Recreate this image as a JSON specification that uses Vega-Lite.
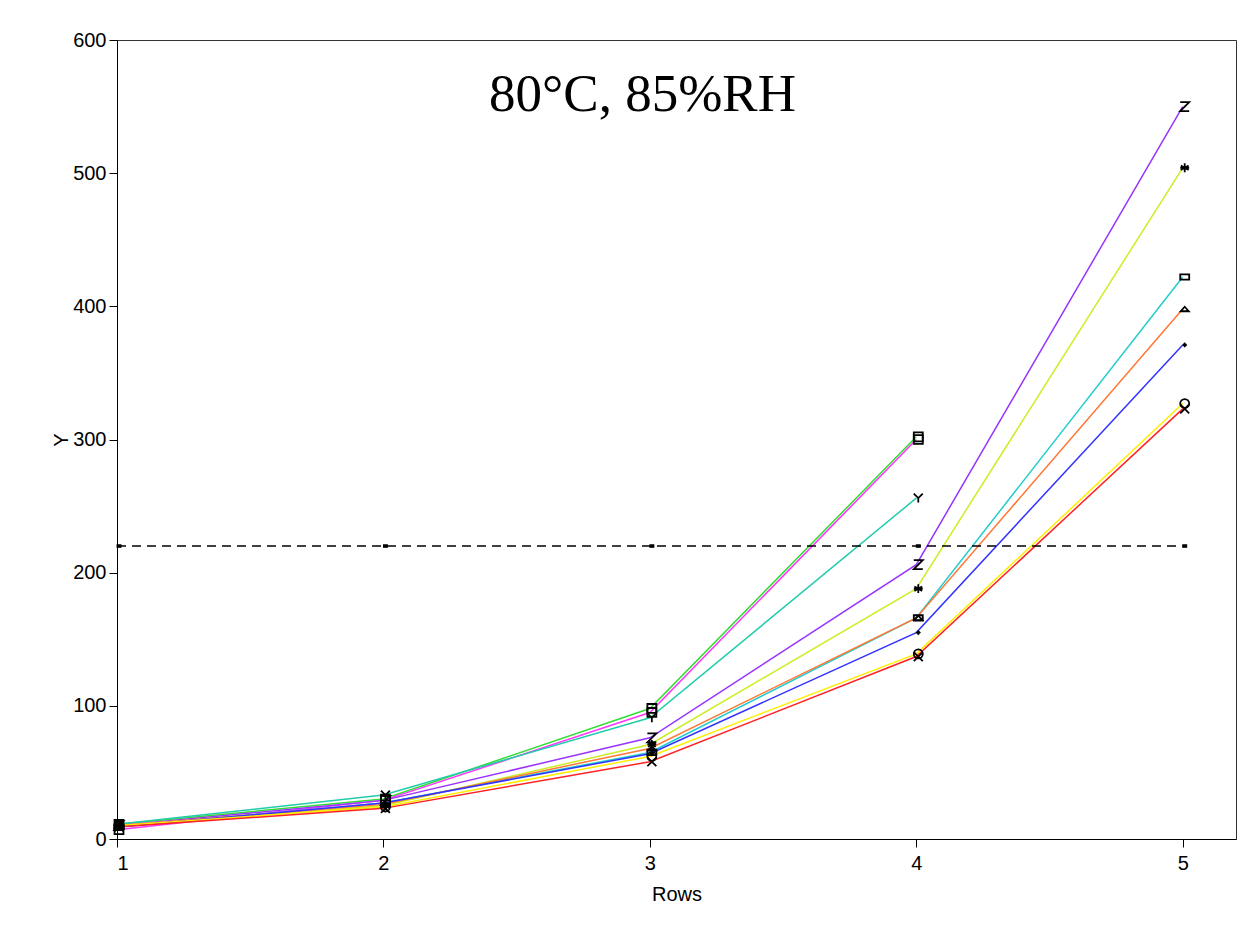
{
  "$schema": "https://vega.github.io/schema/vega-lite/v6.json",
  "width": 1119,
  "height": 799,
  "autosize": {"type": "none"},
  "padding": {"left": 117, "top": 40, "right": 17, "bottom": 97},
  "background": "white",
  "title": {
    "text": "80°C, 85%RH",
    "font": "Liberation Serif",
    "fontSize": 53,
    "fontWeight": "normal",
    "color": "black",
    "anchor": "middle",
    "baseline": "alphabetic",
    "offset": -134,
    "dx": -34
  },
  "config": {
    "view": {"stroke": "#333333", "strokeWidth": 1},
    "axis": {
      "domainColor": "black",
      "tickColor": "black",
      "tickSize": 8,
      "grid": false,
      "labelFont": "Liberation Sans",
      "labelFontSize": 20,
      "labelColor": "black",
      "titleFont": "Liberation Sans",
      "titleFontSize": 20,
      "titleFontWeight": "normal",
      "titleColor": "black"
    }
  },
  "data": {
    "values": [
      {"series": "A", "row": 1, "y": 11}, {"series": "A", "row": 2, "y": 30}, {"series": "A", "row": 3, "y": 98}, {"series": "A", "row": 4, "y": 302},
      {"series": "B", "row": 1, "y": 7}, {"series": "B", "row": 2, "y": 29}, {"series": "B", "row": 3, "y": 95}, {"series": "B", "row": 4, "y": 300},
      {"series": "C", "row": 1, "y": 11}, {"series": "C", "row": 2, "y": 33}, {"series": "C", "row": 3, "y": 91}, {"series": "C", "row": 4, "y": 256},
      {"series": "D", "row": 1, "y": 10}, {"series": "D", "row": 2, "y": 29}, {"series": "D", "row": 3, "y": 76}, {"series": "D", "row": 4, "y": 206}, {"series": "D", "row": 5, "y": 550},
      {"series": "E", "row": 1, "y": 10}, {"series": "E", "row": 2, "y": 25}, {"series": "E", "row": 3, "y": 71}, {"series": "E", "row": 4, "y": 188}, {"series": "E", "row": 5, "y": 504},
      {"series": "F", "row": 1, "y": 9}, {"series": "F", "row": 2, "y": 27}, {"series": "F", "row": 3, "y": 65}, {"series": "F", "row": 4, "y": 166}, {"series": "F", "row": 5, "y": 422},
      {"series": "G", "row": 1, "y": 10}, {"series": "G", "row": 2, "y": 26}, {"series": "G", "row": 3, "y": 68}, {"series": "G", "row": 4, "y": 166}, {"series": "G", "row": 5, "y": 398},
      {"series": "H", "row": 1, "y": 9}, {"series": "H", "row": 2, "y": 27}, {"series": "H", "row": 3, "y": 64}, {"series": "H", "row": 4, "y": 155}, {"series": "H", "row": 5, "y": 371},
      {"series": "I", "row": 1, "y": 10}, {"series": "I", "row": 2, "y": 24}, {"series": "I", "row": 3, "y": 62}, {"series": "I", "row": 4, "y": 139}, {"series": "I", "row": 5, "y": 327},
      {"series": "J", "row": 1, "y": 9}, {"series": "J", "row": 2, "y": 23}, {"series": "J", "row": 3, "y": 58}, {"series": "J", "row": 4, "y": 137}, {"series": "J", "row": 5, "y": 323},
      {"series": "Limit", "row": 1, "y": 220}, {"series": "Limit", "row": 2, "y": 220}, {"series": "Limit", "row": 3, "y": 220}, {"series": "Limit", "row": 4, "y": 220}, {"series": "Limit", "row": 5, "y": 220}
    ]
  },
  "encoding": {
    "x": {
      "field": "row", "type": "quantitative", "title": "Rows",
      "scale": {"domain": [1, 5.2], "nice": false, "zero": false},
      "axis": {"values": [1, 2, 3, 4, 5], "format": "d", "labelPadding": 6, "titlePadding": 11, "domain": true}
    },
    "y": {
      "field": "y", "type": "quantitative", "title": "Y",
      "scale": {"domain": [0, 600], "nice": false},
      "axis": {"values": [0, 100, 200, 300, 400, 500, 600], "labelPadding": 3, "titlePadding": 1}
    }
  },
  "layer": [
    {
      "transform": [{"filter": "datum.series !== 'Limit'"}],
      "mark": {"type": "line", "strokeWidth": 1.5},
      "encoding": {
        "color": {
          "field": "series", "type": "nominal", "legend": null,
          "scale": {
            "domain": ["A", "B", "C", "D", "E", "F", "G", "H", "I", "J"],
            "range": ["#33dd33", "#ff33ff", "#22ccaa", "#9933ff", "#ccee22", "#22cccc", "#ff7733", "#3333ff", "#ffee00", "#ff2222"]
          }
        },
        "detail": {"field": "series"}
      }
    },
    {
      "transform": [{"filter": "datum.series === 'Limit'"}],
      "mark": {"type": "line", "strokeWidth": 1.5, "strokeDash": [9, 6], "color": "black"},
      "encoding": {}
    },
    {
      "mark": {"type": "point", "filled": false, "stroke": "black", "strokeWidth": 1.8, "opacity": 1, "size": 80, "xOffset": 2},
      "encoding": {
        "shape": {
          "field": "series", "type": "nominal", "legend": null,
          "scale": {
            "domain": ["A", "B", "C", "D", "E", "F", "G", "H", "I", "J", "Limit"],
            "range": [
              "square",
              "square",
              "M-1,-1L0,0L1,-1M0,0L0,1",
              "M-1,-1L1,-1L-1,1L1,1",
              "M0,-1L0,1M-0.87,-0.5L0.87,0.5M-0.87,0.5L0.87,-0.5M-1,0L1,0",
              "M-1,-0.6L1,-0.6L1,0.6L-1,0.6Z",
              "M-0.9,0.5L0,-0.5L0.9,0.5Z",
              "M-0.3,0L0,-0.3L0.3,0L0,0.3Z",
              "circle",
              "M-1,-1L1,1M-1,1L1,-1",
              "M-0.35,-0.2L0.35,-0.2L0.35,0.2L-0.35,0.2Z"
            ]
          }
        }
      }
    }
  ]
}
